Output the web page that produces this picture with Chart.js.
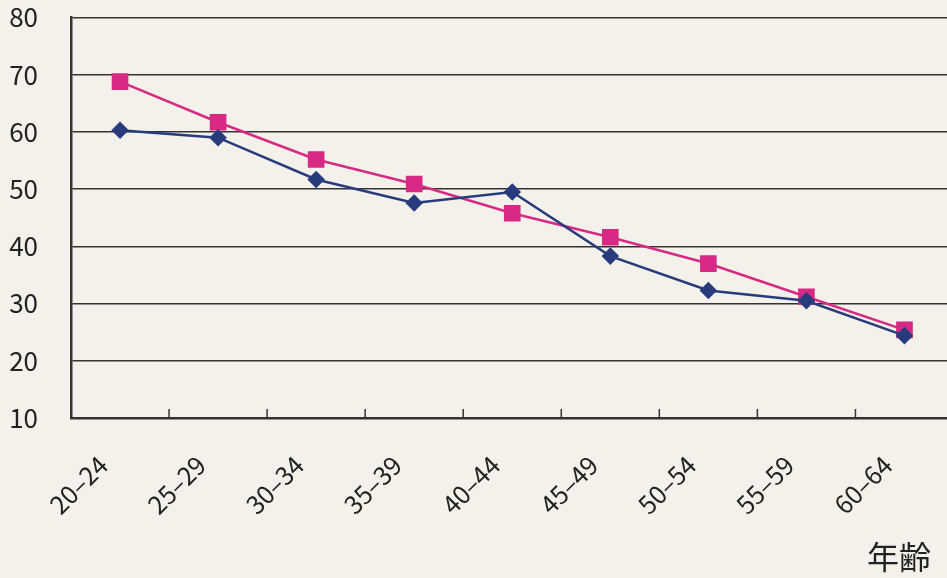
<!DOCTYPE html>
<html>
<head>
<meta charset="utf-8">
<style>
  html, body { margin: 0; padding: 0; background: #f3f1e9; overflow: hidden; }
  #wrap { position: relative; width: 947px; height: 578px; overflow: hidden; }
  #myChart { position: absolute; left: 0; top: -31px; }
  #axisName { position: absolute; left: 867px; top: 532px; font: 32px "Noto Sans CJK JP"; color: #222; }
</style>
</head>
<body>
<div id="wrap">
  <canvas id="myChart" width="966" height="609"></canvas>
  <div id="axisName">年齢</div>
</div>
<script src="https://cdn.jsdelivr.net/npm/chart.js@4.4.1/dist/chart.umd.min.js"></script>
<script>
  const ageGroups = ['20–24', '25–29', '30–34', '35–39', '40–44', '45–49', '50–54', '55–59', '60–64'];
  const blueSeries = [60.3, 59.0, 51.7, 47.6, 49.5, 38.3, 32.3, 30.5, 24.4];
  const pinkSeries = [68.8, 61.7, 55.2, 50.9, 45.8, 41.6, 37.0, 31.2, 25.4];
  const yTicks = [10, 20, 30, 40, 50, 60, 70, 80];

  const axisColor = '#333333';
  const fontFamily = '"Noto Sans CJK JP", "DejaVu Sans", sans-serif';

  // short tick marks pointing up from the x axis, between the categories
  const innerTicks = {
    id: 'innerTicks',
    beforeDatasetsDraw(chart) {
      const x = chart.scales.x, ctx = chart.ctx;
      const bottom = chart.chartArea.bottom;
      ctx.save();
      ctx.strokeStyle = axisColor;
      ctx.lineWidth = 1.5;
      for (let i = 0; i < ageGroups.length - 1; i++) {
        const px = (x.getPixelForValue(i) + x.getPixelForValue(i + 1)) / 2;
        ctx.beginPath();
        ctx.moveTo(px, bottom);
        ctx.lineTo(px, bottom - 9);
        ctx.stroke();
      }
      ctx.restore();
    }
  };

  const ctx = document.getElementById('myChart').getContext('2d');
  const myChart = new Chart(ctx, {
    type: 'line',
    data: {
      labels: ageGroups,
      datasets: [
        {
          data: blueSeries,
          borderColor: '#283b7d',
          backgroundColor: '#283b7d',
          borderWidth: 2.5,
          pointStyle: 'rectRot',
          pointRadius: 7,
          tension: 0
        },
        {
          data: pinkSeries,
          borderColor: '#d82a84',
          backgroundColor: '#d82a84',
          borderWidth: 2.5,
          pointStyle: 'rect',
          pointRadius: 10,
          tension: 0
        }
      ]
    },
    options: {
      responsive: false,
      animation: false,
      layout: { padding: { top: 16, right: 8, left: 0, bottom: 0 } },
      plugins: { legend: { display: false }, tooltip: { enabled: false } },
      scales: {
        x: {
          offset: true,
          grid: { display: false, drawTicks: false },
          border: { display: true, color: axisColor, width: 2.5 },
          ticks: {
            maxRotation: 45, minRotation: 45,
            padding: 32,
            labelOffset: -17,
            color: '#222',
            font: { family: fontFamily, size: 25 }
          },
          afterFit(scale) { scale.height = 160; }
        },
        y: {
          min: 10, max: 80,
          afterBuildTicks(scale) { scale.ticks = yTicks.map(v => ({ value: v })); },
          grid: { color: axisColor, lineWidth: 1.5, drawTicks: false },
          border: { display: true, color: axisColor, width: 2.5 },
          ticks: {
            padding: 33,
            color: '#222',
            font: { family: fontFamily, size: 26 }
          },
          afterFit(scale) { scale.width = 71; }
        }
      }
    },
    plugins: [innerTicks]
  });
</script>
</body>
</html>
